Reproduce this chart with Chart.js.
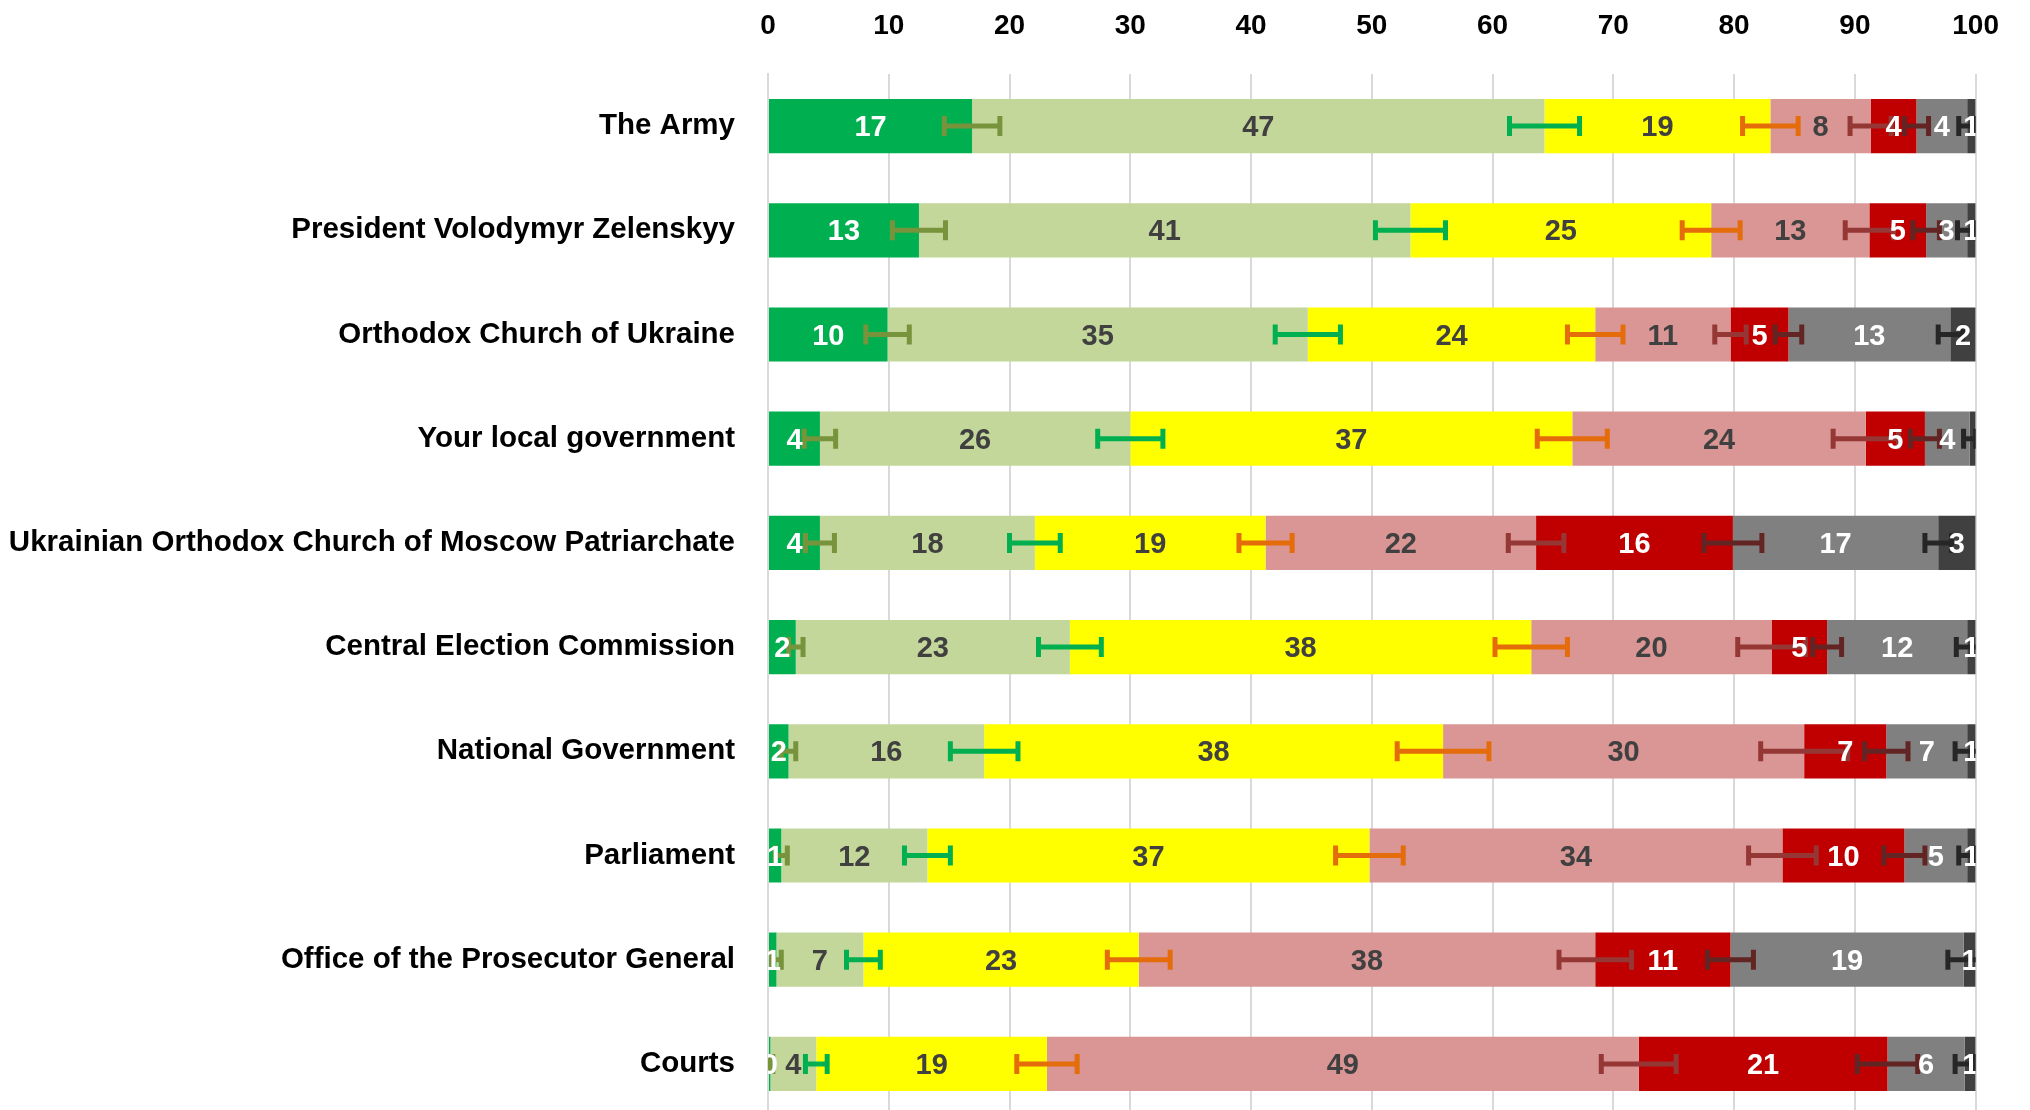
<!DOCTYPE html>
<html>
<head>
<meta charset="utf-8">
<script src="https://cdn.jsdelivr.net/npm/chart.js@4.4.1/dist/chart.umd.min.js"></script>
<style>
  body { margin: 0; background: #fff; overflow: hidden; }
  #wrap { width: 2030px; height: 1116px; }
</style>
</head>
<body>
<div id="wrap"><canvas id="chart"></canvas></div>
<script>
// institutions, top to bottom
const categories = [
  'The Army',
  'President Volodymyr Zelenskyy',
  'Orthodox Church of Ukraine',
  'Your local government',
  'Ukrainian Orthodox Church of Moscow Patriarchate',
  'Central Election Commission',
  'National Government',
  'Parliament',
  'Office of the Prosecutor General',
  'Courts'
];

const xTicks = [0, 10, 20, 30, 40, 50, 60, 70, 80, 90, 100];

// shares in %
const fullyTrust     = [16.9, 12.5,  9.9,  4.3,  4.3,  2.3,  1.7,  1.1,  0.7,  0.2];
const ratherTrust    = [47.4, 40.7, 34.8, 25.7, 17.8, 22.7, 16.2, 12.1,  7.2,  3.8];
const neutral        = [18.7, 24.9, 23.8, 36.6, 19.1, 38.2, 38.0, 36.6, 22.8, 19.1];
const ratherDistrust = [ 8.3, 13.1, 11.2, 24.3, 22.4, 19.9, 29.9, 34.2, 37.8, 49.0];
const fullyDistrust  = [ 3.8,  4.7,  4.8,  4.9, 16.3,  4.6,  6.8, 10.1, 11.2, 20.6];
const dontKnow       = [ 4.2,  3.4, 13.4,  3.7, 17.0, 11.6,  6.7,  5.2, 19.3,  6.4];
const refused        = [ 0.7,  0.7,  2.1,  0.5,  3.1,  0.7,  0.7,  0.7,  1.0,  0.9];

// margins of error, drawn at the end of each cumulative segment
const errFullyTrust     = [2.3, 2.2, 1.8, 1.3, 1.2, 0.6, 0.6, 0.5, 0.4, 0.2];
const errRatherTrust    = [2.9, 2.9, 2.7, 2.7, 2.1, 2.6, 2.8, 1.9, 1.4, 0.9];
const errNeutral        = [2.3, 2.4, 2.3, 2.9, 2.2, 3.0, 3.8, 2.8, 2.6, 2.5];
const errRatherDistrust = [1.7, 2.0, 1.3, 2.7, 2.3, 2.8, 3.6, 2.8, 3.0, 3.1];
const errFullyDistrust  = [1.0, 1.1, 1.1, 1.2, 2.4, 1.2, 1.8, 1.7, 1.9, 2.5];
const errDontKnow       = [0.7, 0.8, 1.0, 0.5, 1.1, 0.9, 1.0, 0.7, 1.3, 0.8];

const series = [fullyTrust, ratherTrust, neutral, ratherDistrust, fullyDistrust, dontKnow, refused];
const seriesNames = ['Fully trust', 'Rather trust', 'Neutral', 'Rather distrust', 'Fully distrust', "Don't know", 'Refused'];
const colors = ['#00B050', '#C4D79B', '#FFFF00', '#DA9694', '#C00000', '#808080', '#404040'];
const labelColors = ['#ffffff', '#404040', '#404040', '#404040', '#ffffff', '#ffffff', '#ffffff'];

const errors = [errFullyTrust, errRatherTrust, errNeutral, errRatherDistrust, errFullyDistrust, errDontKnow];
const errorColors = ['#77933C', '#00B050', '#E46C0A', '#953735', '#632523', '#262626'];

// label hidden under the error bar in the reference
const hiddenLabels = [[6, 3]];

const FONT = 'Liberation Sans, Arial, sans-serif';

function stackEnd(s, i) {
  let sum = 0;
  for (let k = 0; k <= s; k++) sum += series[k][i];
  return sum;
}

function clipArea(ctx, area) {
  ctx.beginPath();
  ctx.rect(area.left, area.top - 10, area.right - area.left, area.bottom - area.top + 20);
  ctx.clip();
}

const errorBars = {
  id: 'errorBars',
  afterDatasetsDraw(chart) {
    const ctx = chart.ctx;
    const x = chart.scales.x;
    ctx.save();
    clipArea(ctx, chart.chartArea);
    ctx.lineWidth = 5;
    ctx.lineCap = 'butt';
    errors.forEach((errs, s) => {
      const meta = chart.getDatasetMeta(s);
      ctx.strokeStyle = errorColors[s];
      meta.data.forEach((bar, i) => {
        const end = stackEnd(s, i);
        const x0 = x.getPixelForValue(end - errs[i]);
        const x1 = x.getPixelForValue(end + errs[i]);
        const y = bar.y;
        ctx.beginPath();
        ctx.moveTo(x0, y); ctx.lineTo(x1, y);
        ctx.moveTo(x0, y - 10); ctx.lineTo(x0, y + 10);
        ctx.moveTo(x1, y - 10); ctx.lineTo(x1, y + 10);
        ctx.stroke();
      });
    });
    ctx.restore();
  }
};

const valueLabels = {
  id: 'valueLabels',
  afterDatasetsDraw(chart) {
    const ctx = chart.ctx;
    ctx.save();
    clipArea(ctx, chart.chartArea);
    ctx.font = 'bold 29px ' + FONT;
    ctx.textAlign = 'center';
    ctx.textBaseline = 'middle';
    series.forEach((vals, s) => {
      const meta = chart.getDatasetMeta(s);
      ctx.fillStyle = labelColors[s];
      meta.data.forEach((bar, i) => {
        if (hiddenLabels.some(h => h[0] === s && h[1] === i)) return;
        const cx = (bar.x + bar.base) / 2;
        ctx.fillText(String(Math.round(vals[i])), cx, bar.y + 2);
      });
    });
    ctx.restore();
  }
};

new Chart(document.getElementById('chart'), {
  type: 'bar',
  plugins: [errorBars, valueLabels],
  data: {
    labels: categories,
    datasets: series.map((vals, s) => ({
      label: seriesNames[s],
      data: vals,
      backgroundColor: colors[s],
      borderWidth: 0,
      barPercentage: 0.52,
      categoryPercentage: 1
    }))
  },
  options: {
    indexAxis: 'y',
    responsive: true,
    maintainAspectRatio: false,
    animation: false,
    layout: { padding: { left: 0, right: 48, top: 0, bottom: 0 } },
    plugins: {
      legend: { display: false },
      tooltip: { enabled: false }
    },
    scales: {
      x: {
        position: 'top',
        stacked: true,
        min: 0,
        max: 100,
        afterBuildTicks: scale => { scale.ticks = xTicks.map(v => ({ value: v })); },
        afterFit: scale => { scale.height = 74; },
        grid: { color: '#D9D9D9', lineWidth: 2, drawTicks: false },
        border: { display: false },
        ticks: {
          color: '#000',
          padding: 31,
          font: { family: FONT, size: 28, weight: 'bold' }
        }
      },
      y: {
        stacked: true,
        afterFit: scale => {
          scale.width = 768;
          scale.paddingTop = 0;
          scale.paddingBottom = 0;
        },
        grid: { display: false, drawTicks: false },
        border: { display: true, color: '#D9D9D9', width: 2 },
        ticks: {
          color: '#000',
          padding: 33,
          font: { family: FONT, size: 29.5, weight: 'bold' }
        }
      }
    }
  }
});
</script>
</body>
</html>
